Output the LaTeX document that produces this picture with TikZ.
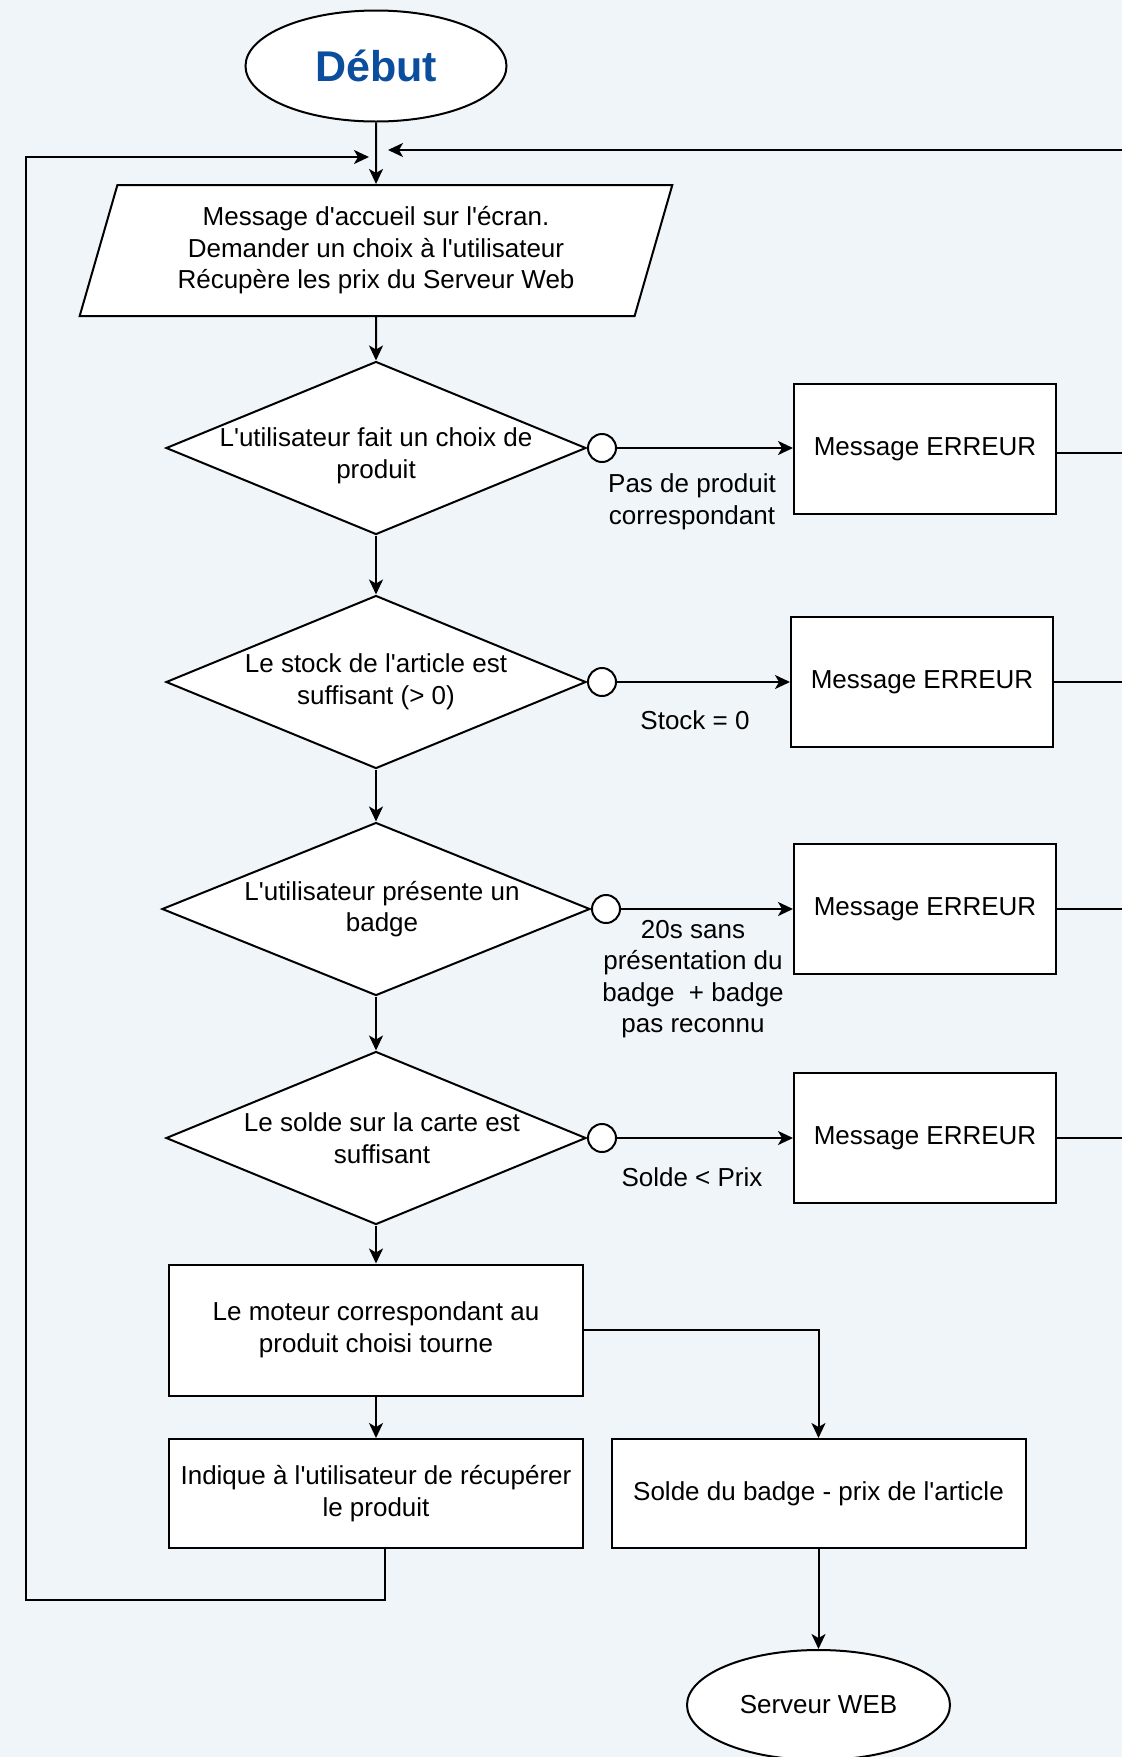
\documentclass[tikz,border=0pt]{standalone}
\usepackage{fontspec}
\setmainfont{Liberation Sans}[Ligatures=TeXOff]
\usepackage{xcolor}
\usepackage{tikz}
\usetikzlibrary{arrows.meta, shapes.geometric, positioning}

\definecolor{fond}{RGB}{240,245,249}
\definecolor{bleudebut}{RGB}{12,78,158}

\tikzset{
    base/.style={draw, fill=white, line width=2pt, align=center,
        font=\fontsize{26}{31.5}\selectfont},
    terminal/.style={base, ellipse, minimum width=261pt, minimum height=111pt, inner sep=0pt},
    entree/.style={base, trapezium, trapezium left angle=71.7, trapezium right angle=108.3,
        trapezium stretches=true, minimum width=593pt, minimum height=131pt, inner sep=0pt},
    decision/.style={base, diamond, minimum width=420pt, minimum height=173pt, inner sep=0pt},
    dtexte/.style={align=center, inner sep=0pt, font=\fontsize{26}{31.5}\selectfont},
    action/.style={base, rectangle, minimum width=414pt, inner sep=0pt},
    erreur/.style={base, rectangle, minimum width=262pt, minimum height=130pt, inner sep=0pt},
    port/.style={draw, fill=white, circle, line width=2pt, minimum size=28pt, inner sep=0pt},
    etiq/.style={align=center, inner sep=0pt, font=\fontsize{26}{31.5}\selectfont},
    fleche/.style={line width=2pt, -{Stealth[length=15pt, width=14pt, inset=4pt]}},
    trait/.style={line width=2pt},
}

\begin{document}
\begin{tikzpicture}[x=1pt, y=-1pt]
    \path[use as bounding box, fill=fond] (0,0) rectangle (1122,1757);

    % 1. Début et message d'accueil
    \node[terminal, font=\bfseries\fontsize{43}{50}\selectfont, text=bleudebut] (debut) at (376,66) {Début};
    \node[entree] (accueil) at (376,250.5)
        {Message d'accueil sur l'écran.\\Demander un choix à l'utilisateur\\Récupère les prix du Serveur Web};
    \coordinate (jg) at (369,157);
    \coordinate (jd) at (388,150);

    % 2. Les quatre tests
    \node[decision, label={[dtexte, yshift=-8pt]center:{L'utilisateur fait un choix de\\produit}}] (choix) at (376,448) {};
    \node[decision, label={[dtexte]center:{Le stock de l'article est\\suffisant (> 0)}}] (stock) at (376,682) {};
    \node[decision, minimum width=428pt, label={[dtexte, xshift=6pt]center:{L'utilisateur présente un\\badge}}] (badge) at (376,909) {};
    \node[decision, label={[dtexte, xshift=6pt]center:{Le solde sur la carte est\\suffisant}}] (solde) at (376,1138) {};

    \node[port, right=0pt of choix] (pchoix) {};
    \node[port, right=0pt of stock] (pstock) {};
    \node[port, right=0pt of badge] (pbadge) {};
    \node[port, right=0pt of solde] (psolde) {};

    % 3. Messages d'erreur
    \node[erreur] (err1) at (925,449) {Message ERREUR};
    \node[erreur] (err2) at (922,682) {Message ERREUR};
    \node[erreur] (err3) at (925,909) {Message ERREUR};
    \node[erreur] (err4) at (925,1138) {Message ERREUR};

    \node[etiq] (lchoix) at (692,502) {Pas de produit\\correspondant};
    \node[etiq] (lstock) at (695,720) {Stock = 0};
    \node[etiq] (lbadge) at (693,979) {20s sans\\présentation du\\badge\ \ + badge\\pas reconnu};
    \node[etiq] (lsolde) at (692,1177) {Solde < Prix};

    \coordinate (bord1) at (1122,453);
    \coordinate (bord2) at (1122,682);
    \coordinate (bord3) at (1122,909);
    \coordinate (bord4) at (1122,1138);
    \coordinate (bordh) at (1122,150);

    % 4. Distribution
    \node[action, minimum height=131pt] (moteur) at (376,1330)
        {Le moteur correspondant au\\produit choisi tourne};
    \node[action, minimum height=109pt] (recup) at (376,1493.5)
        {Indique à l'utilisateur de récupérer\\le produit};
    \node[action, minimum height=109pt] (debit) at (818.5,1493.5)
        {Solde du badge - prix de l'article};
    \node[terminal, minimum width=263pt, minimum height=110pt] (serveur) at (818.5,1705) {Serveur WEB};
    \coordinate (coin) at (26,1600);

    % 5. Liaisons
    \draw[fleche] (debut) -- (accueil);
    \draw[fleche] (accueil) -- (choix);
    \draw[fleche] (choix) -- (stock);
    \draw[fleche] (stock) -- (badge);
    \draw[fleche] (badge) -- (solde);
    \draw[fleche] (solde) -- (moteur);
    \draw[fleche] (moteur) -- (recup);
    \draw[fleche] (moteur.east) -| (debit.north);
    \draw[fleche] (debit) -- (serveur);

    \draw[fleche] (pchoix) -- (err1.west |- pchoix);
    \draw[fleche] (pstock) -- (err2.west |- pstock);
    \draw[fleche] (pbadge) -- (err3.west |- pbadge);
    \draw[fleche] (psolde) -- (err4.west |- psolde);

    \draw[trait] (err1.east |- bord1) -- (bord1);
    \draw[trait] (err2.east) -- (bord2);
    \draw[trait] (err3.east) -- (bord3);
    \draw[trait] (err4.east) -- (bord4);

    % 6. Retours vers le début
    \draw[fleche] (bordh) -- (jd);
    \draw[fleche] ([xshift=9pt]recup.south) |- (coin) |- (jg);
\end{tikzpicture}
\end{document}
